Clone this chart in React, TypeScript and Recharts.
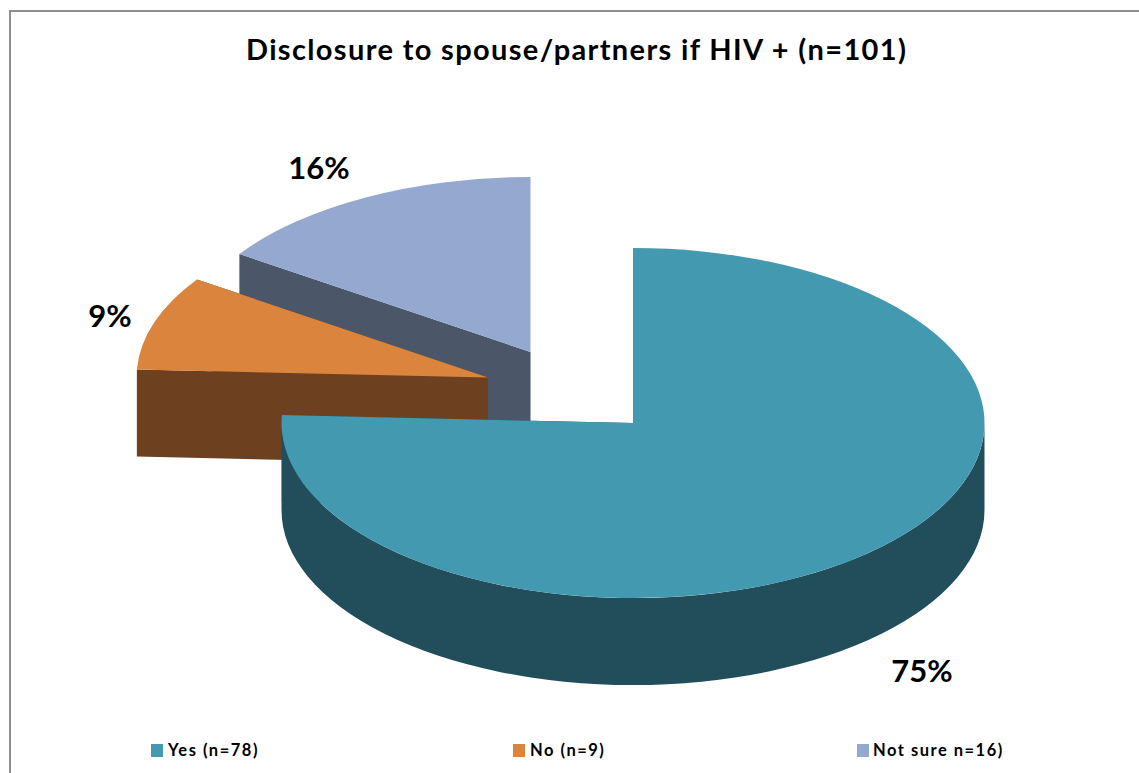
import React from "react";
import { PieChart, Pie, Legend } from "recharts";

const categories = ["Not sure n=16)", "No (n=9)", "Yes (n=78)"];
const values = [16, 9, 78];
const percentLabels = ["16%", "9%", "75%"];
const TITLE = "Disclosure to spouse/partners if HIV + (n=101)";

const topColors = ["#95A9D0", "#DB843D", "#4299B0"];
const sideColors = ["#4B5669", "#6D4120", "#224E5B"];
const sliceOffsets = [
  { dx: -102.5, dy: -71 },
  { dx: -145, dy: -45.5 },
  { dx: 0, dy: 0 },
];
const labelSpots = [
  { x: 319, y: 167 },
  { x: 110, y: 315 },
  { x: 922, y: 670 },
];
const legendSpots = [
  { marker: 857, text: 873 },
  { marker: 513, text: 530 },
  { marker: 151, text: 168 },
];

const WIDTH = 1139;
const HEIGHT = 773;
const RX = 351.5;
const SQUASH = 175 / 351.5;
const DEPTH = 87;
const FONT = "Lato, 'Open Sans', sans-serif";

const pieData = categories.map((name, i) => ({ name, value: values[i], fill: topColors[i] }));

const rad = (a: number) => (a * Math.PI) / 180;

function Slice3D(props: any) {
  const i = categories.indexOf(props.name ?? props.payload?.name);
  if (i < 0) return null;
  const cx = props.cx + sliceOffsets[i].dx;
  const cy = props.cy + sliceOffsets[i].dy;
  const rx = props.outerRadius;
  const ry = rx * SQUASH;
  const a0 = Math.min(props.startAngle, props.endAngle);
  const a1 = Math.max(props.startAngle, props.endAngle);
  const px = (a: number) => cx + rx * Math.cos(rad(a));
  const py = (a: number) => cy - ry * Math.sin(rad(a));
  const large = a1 - a0 > 180 ? 1 : 0;

  const top = `M${cx},${cy} L${px(a0)},${py(a0)} A${rx},${ry} 0 ${large} 0 ${px(a1)},${py(a1)} Z`;
  const face = (a: number) =>
    `M${cx},${cy} L${px(a)},${py(a)} L${px(a)},${py(a) + DEPTH} L${cx},${cy + DEPTH} Z`;

  // Only the front half of the rim faces the viewer.
  const lo = Math.max(a0, 180);
  const hi = Math.min(a1, 360);
  const wall =
    lo < hi
      ? `M${px(lo)},${py(lo)} A${rx},${ry} 0 0 0 ${px(hi)},${py(hi)} L${px(hi)},${py(hi) + DEPTH} A${rx},${ry} 0 0 1 ${px(lo)},${py(lo) + DEPTH} Z`
      : null;

  return (
    <g>
      <path d={face(a0)} fill={sideColors[i]} />
      <path d={face(a1)} fill={sideColors[i]} />
      {wall && <path d={wall} fill={sideColors[i]} />}
      <path d={top} fill={topColors[i]} />
    </g>
  );
}

function renderPercent(props: any) {
  const i = categories.indexOf(props.name ?? props.payload?.name);
  if (i < 0) return null;
  return (
    <text
      x={labelSpots[i].x}
      y={labelSpots[i].y}
      textAnchor="middle"
      dominantBaseline="central"
      fontFamily={FONT}
      fontWeight={700}
      fontSize={31}
      fill="#000"
    >
      {percentLabels[i]}
    </text>
  );
}

function LegendRow() {
  return (
    <div style={{ position: "relative", width: WIDTH, height: 30 }}>
      {categories.map((name, i) => (
        <React.Fragment key={name}>
          <div
            style={{
              position: "absolute",
              left: legendSpots[i].marker,
              top: 7,
              width: 12,
              height: 13,
              background: topColors[i],
            }}
          />
          <div
            style={{
              position: "absolute",
              left: legendSpots[i].text,
              top: 3,
              fontFamily: FONT,
              fontWeight: 700,
              fontSize: 16.5,
              letterSpacing: 1.5,
              lineHeight: "20px",
              whiteSpace: "nowrap",
              color: "#000",
            }}
          >
            {name}
          </div>
        </React.Fragment>
      ))}
    </div>
  );
}

export default function App() {
  return (
    <div style={{ position: "absolute", left: 0, top: 0, width: WIDTH, height: HEIGHT, overflow: "hidden", background: "#fff" }}>
      <div style={{ position: "absolute", left: 9, top: 10, right: 0, height: 2, background: "#8f8f8f" }} />
      <div style={{ position: "absolute", left: 9, top: 10, bottom: 0, width: 2, background: "#8f8f8f" }} />
      <div
        style={{
          position: "absolute",
          left: 246,
          top: 33,
          fontFamily: FONT,
          fontWeight: 700,
          fontSize: 29,
          letterSpacing: 1.35,
          lineHeight: "32px",
          whiteSpace: "nowrap",
          color: "#000",
        }}
      >
        {TITLE}
      </div>
      <PieChart width={WIDTH} height={HEIGHT} margin={{ top: 0, right: 0, bottom: 0, left: 0 }} style={{ position: "absolute", left: 0, top: 0 }}>
        <Pie
          data={pieData}
          dataKey="value"
          nameKey="name"
          cx={633}
          cy={423}
          innerRadius={0}
          outerRadius={RX}
          startAngle={90}
          endAngle={450}
          stroke="none"
          isAnimationActive={false}
          shape={Slice3D}
          label={renderPercent}
          labelLine={false}
        />
        <Legend
          content={<LegendRow />}
          layout="horizontal"
          verticalAlign="bottom"
          wrapperStyle={{ position: "absolute", left: 0, top: 737, width: WIDTH, height: 30 }}
        />
      </PieChart>
    </div>
  );
}
